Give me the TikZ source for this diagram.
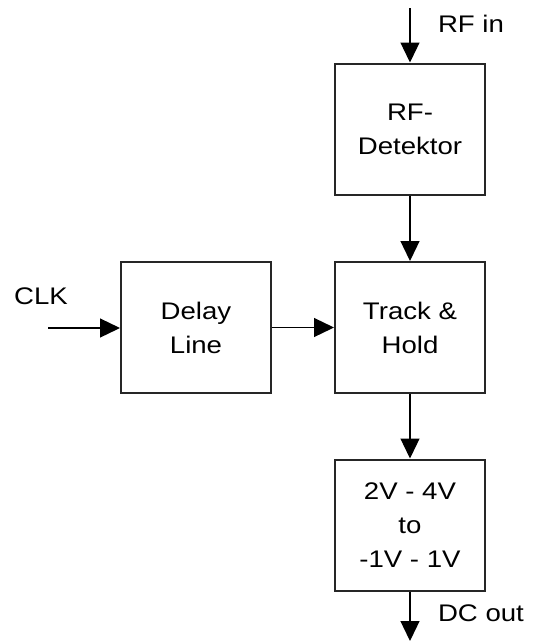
\documentclass[tikz,border=0pt]{standalone}
\usepackage{fontspec}
\setmainfont{Liberation Sans}[FakeStretch=1.15]
\usetikzlibrary{arrows.meta}

\begin{document}
\begin{tikzpicture}[x=1pt,y=-1pt,
  block/.style={draw=black!85,line width=2pt,minimum width=150pt,minimum height=131pt,
    inner sep=0pt,align=center,font=\fontsize{24}{34}\selectfont},
  tag/.style={inner sep=0pt,font=\fontsize{24}{34}\selectfont},
  sig/.style={line width=1.3pt,-{Triangle[length=20pt,width=19pt]}}]
\useasboundingbox (0,0) rectangle (533,641);
% blocks
\node[block] (det) at (410,129) {RF-\\Detektor};
\node[block] (dly) at (196,327.5) {Delay\\Line};
\node[block] (th) at (410,327.5) {Track \&\\Hold};
\node[block] (conv) at (410,525) {2V - 4V\\to\\-1V - 1V};
% ports
\coordinate (rf) at (410,8);
\coordinate (clk) at (48,328);
\coordinate (dc) at (410,641);
\node[tag] (rflab) at (471,24) {RF in};
\node[tag] (clklab) at (41,296) {CLK};
\node[tag] (dclab) at (481,613) {DC out};
% signals
\draw[sig] (rf) -- (det);
\draw[sig] (det) -- (th);
\draw[sig] (clk) -- (dly.west|-clk);
\draw[sig] (dly) -- (th);
\draw[sig] (th) -- (conv);
\draw[sig] (conv) -- (dc);
\end{tikzpicture}
\end{document}
